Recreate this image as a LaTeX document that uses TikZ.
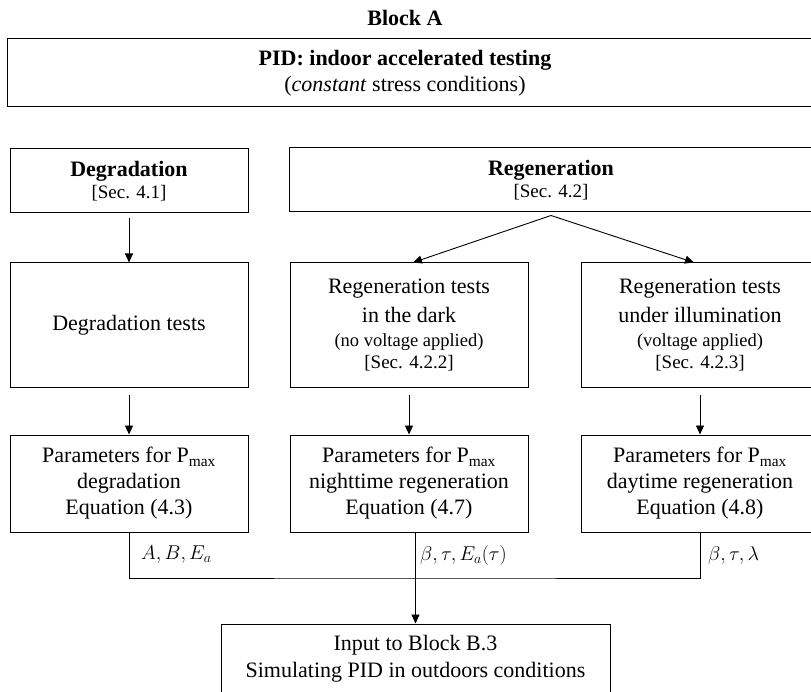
\documentclass[tikz,border=0pt]{standalone}
\usepackage{fix-cm}
\usepackage{fontspec}
\setmainfont{Liberation Serif}
\usetikzlibrary{arrows.meta}
\begin{document}
\begin{tikzpicture}[x=1pt,y=-1pt,
  box/.style={draw=black, line width=1pt, inner sep=0pt, align=center, font=\fontsize{22}{29}\selectfont},
  txt/.style={inner sep=0pt, align=center, font=\fontsize{22}{26}\selectfont},
  arr/.style={-{Triangle[length=9pt,width=8pt]}, line width=0.9pt},
  ln/.style={line width=0.9pt},
  lbl/.style={anchor=west, inner sep=0pt, font=\fontsize{20}{22}\selectfont}]
\useasboundingbox (0,0) rectangle (811,692);
\clip (0,0) rectangle (811,692);

\node[txt, font=\bfseries\fontsize{22}{26}\selectfont] (title) at (405,18) {Block A};

\node[box, minimum width=830, minimum height=68] (top) at (422,73) {};
\node[txt] (toptext) at (405,73) {\textbf{PID: indoor accelerated testing}\\(\textit{constant} stress conditions)};

\node[box, minimum width=238, minimum height=64, font=\fontsize{22}{22}\selectfont] (deg) at (129,181)
  {\textbf{Degradation}\\{\fontsize{19}{22}\selectfont [Sec. 4.1]}};
\node[box, minimum width=524, minimum height=64, font=\fontsize{22}{22}\selectfont] (reg) at (551,180)
  {\textbf{Regeneration}\\{\fontsize{19}{22}\selectfont [Sec. 4.2]}};

\node[box, minimum width=238, minimum height=124] (degt) at (129,325) {Degradation tests};
\node[box, minimum width=238, minimum height=124] (regd) at (409,325)
  {Regeneration tests\\in the dark\\[-5pt]{\fontsize{18.5}{22}\selectfont (no voltage applied)}\\[-7pt]{\fontsize{19}{22}\selectfont [Sec. 4.2.2]}};
\node[box, minimum width=238, minimum height=124] (regi) at (700,325)
  {Regeneration tests\\under illumination\\[-5pt]{\fontsize{18.5}{22}\selectfont (voltage applied)}\\[-7pt]{\fontsize{19}{22}\selectfont [Sec. 4.2.3]}};

\node[box, minimum width=238, minimum height=97, font=\fontsize{22}{26}\selectfont] (pdeg) at (129,483.5)
  {Parameters for P\textsubscript{max}\\degradation\\Equation (4.3)};
\node[box, minimum width=238, minimum height=97, font=\fontsize{22}{26}\selectfont] (pnight) at (409,483.5)
  {Parameters for P\textsubscript{max}\\nighttime regeneration\\Equation (4.7)};
\node[box, minimum width=238, minimum height=97, font=\fontsize{22}{26}\selectfont] (pday) at (700,483.5)
  {Parameters for P\textsubscript{max}\\daytime regeneration\\Equation (4.8)};

\node[box, minimum width=389, minimum height=70, font=\fontsize{22}{27}\selectfont] (out) at (415.5,659)
  {Input to Block B.3\\Simulating PID in outdoors conditions};

\draw[arr] ([yshift=-5pt]deg.south) -- (degt.north);
\draw[arr] ([yshift=-3pt]reg.south) -- ([xshift=4pt]regd.north);
\draw[arr] ([yshift=-3pt]reg.south) -- ([xshift=-6pt]regi.north);

\draw[arr] ([yshift=-7pt]degt.south) -- (pdeg.north);
\draw[arr] ([yshift=-7pt]regd.south) -- (pnight.north);
\draw[arr] ([yshift=-7pt]regi.south) -- (pday.north);

\coordinate (bus) at (415.5,578);
\draw[ln] (pdeg.south) |- (bus) -| (pday.south);
\draw[arr] (pnight.south -| out.north) -- (out.north);

\node[lbl] (lA) at (141,555) {$A, B, E_a$};
\node[lbl] (lB) at (420,555) {$\beta, \tau, E_a(\tau)$};
\node[lbl] (lC) at (708,555) {$\beta, \tau, \lambda$};
\end{tikzpicture}
\end{document}
